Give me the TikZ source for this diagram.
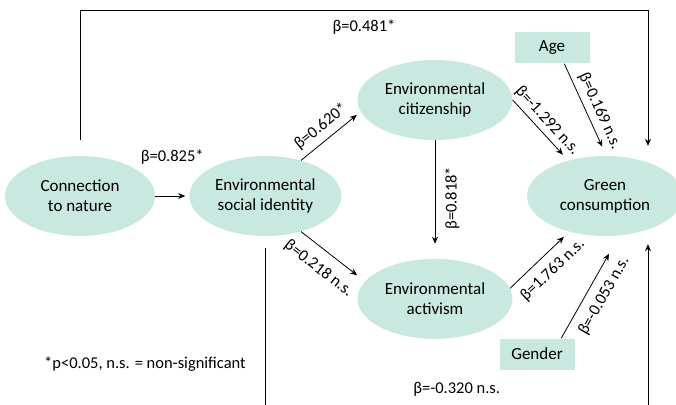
\documentclass[tikz,border=0pt]{standalone}
\usepackage{fontspec}
\setmainfont{Carlito}
\usepackage{tikz}
\usetikzlibrary{arrows.meta,positioning,shapes.geometric}
\definecolor{pathmint}{RGB}{200,232,224}
\tikzset{
  pathpicture/.style={x=1pt, y=1pt, node distance=34pt},
  pathellipse/.style={ellipse, fill=pathmint, align=center, inner sep=0pt, minimum width=152pt, minimum height=80pt, font=\fontsize{17}{20}\selectfont},
  pathbox/.style={fill=pathmint, inner sep=0pt, minimum width=75pt, minimum height=31pt, font=\fontsize{17}{20}\selectfont},
  pathlabel/.style={font=\fontsize{16.5}{19}\selectfont, inner sep=1pt},
  patharrow/.style={-{Stealth[length=7pt, width=6pt]}, line width=0.8pt},
  pathline/.style={patharrow, line width=0.9pt}
}

\begin{document}
\begin{tikzpicture}[pathpicture]
\useasboundingbox (0,0) rectangle (676,404);
\node[pathellipse, minimum width=150pt] (nature) at (80,208) {Connection\\to nature};
\node[pathellipse, right=of nature] (esi) {Environmental\\social identity};
\node[pathellipse, minimum width=155pt] (cit) at (435,304) {Environmental\\citizenship};
\node[pathellipse, minimum width=155pt, below=118.5pt of cit] (act) {Environmental\\activism};
\node[pathellipse, minimum width=156pt] (green) at (605,208) {Green\\consumption};
\node[pathbox] (age) at (552,356) {Age};
\node[pathbox] (gender) at (537,50) {Gender};
\node[pathlabel] (note) at (145,40) {*p<0.05, n.s. = non-significant};
\coordinate (ctop) at (0,394);
\coordinate (cbot) at (0,-3);
\draw[patharrow, shorten >=4pt] (nature) -- node[pathlabel, above=30pt] {β=0.825*} (esi);
\draw[patharrow, shorten >=5pt] (esi.45) -- node[pathlabel, sloped, above=5pt, pos=0.48] {β=0.620*} (cit.189);
\draw[patharrow, shorten >=10pt] (esi.-45) -- node[pathlabel, sloped, below=10pt, pos=0.45] {β=0.218 n.s.} (act.166);
\draw[patharrow, shorten >=15pt] (cit) -- node[pathlabel, pos=0.49, rotate=90, anchor=north, outer sep=9pt] {β=0.818*} (act);
\draw[patharrow, shorten >=8pt] (cit.east) -- node[pathlabel, sloped, above=3pt, pos=0.47] {β=-1.292 n.s.} (green.136);
\draw[patharrow, shorten >=10pt] (age.-52) -- node[pathlabel, sloped, above=4pt, pos=0.57] {β=0.169 n.s.} (green.88);
\draw[patharrow, shorten >=7.5pt] (act.8) -- node[pathlabel, sloped, below=8pt, pos=0.53] {β=1.763 n.s.} (green.225);
\draw[patharrow, shorten >=21pt] (gender.33) -- node[pathlabel, sloped, below=8pt, pos=0.49] {β=-0.053 n.s.} (green.-70);
% paths round the outside
\draw[pathline, shorten <=16pt, shorten >=16.6pt] (nature.north) -- (nature.north |- ctop)
  -- node[pathlabel, below=8.5pt] {β=0.481*} (ctop -| green.38) -- (green.38);
\draw[pathline, shorten <=12pt, shorten >=14.6pt] (esi.south) -- (esi.south |- cbot)
  -- node[pathlabel, above=9.5pt] {β=-0.320 n.s.} (cbot -| green.-38) -- (green.-38);
\end{tikzpicture}
\end{document}
